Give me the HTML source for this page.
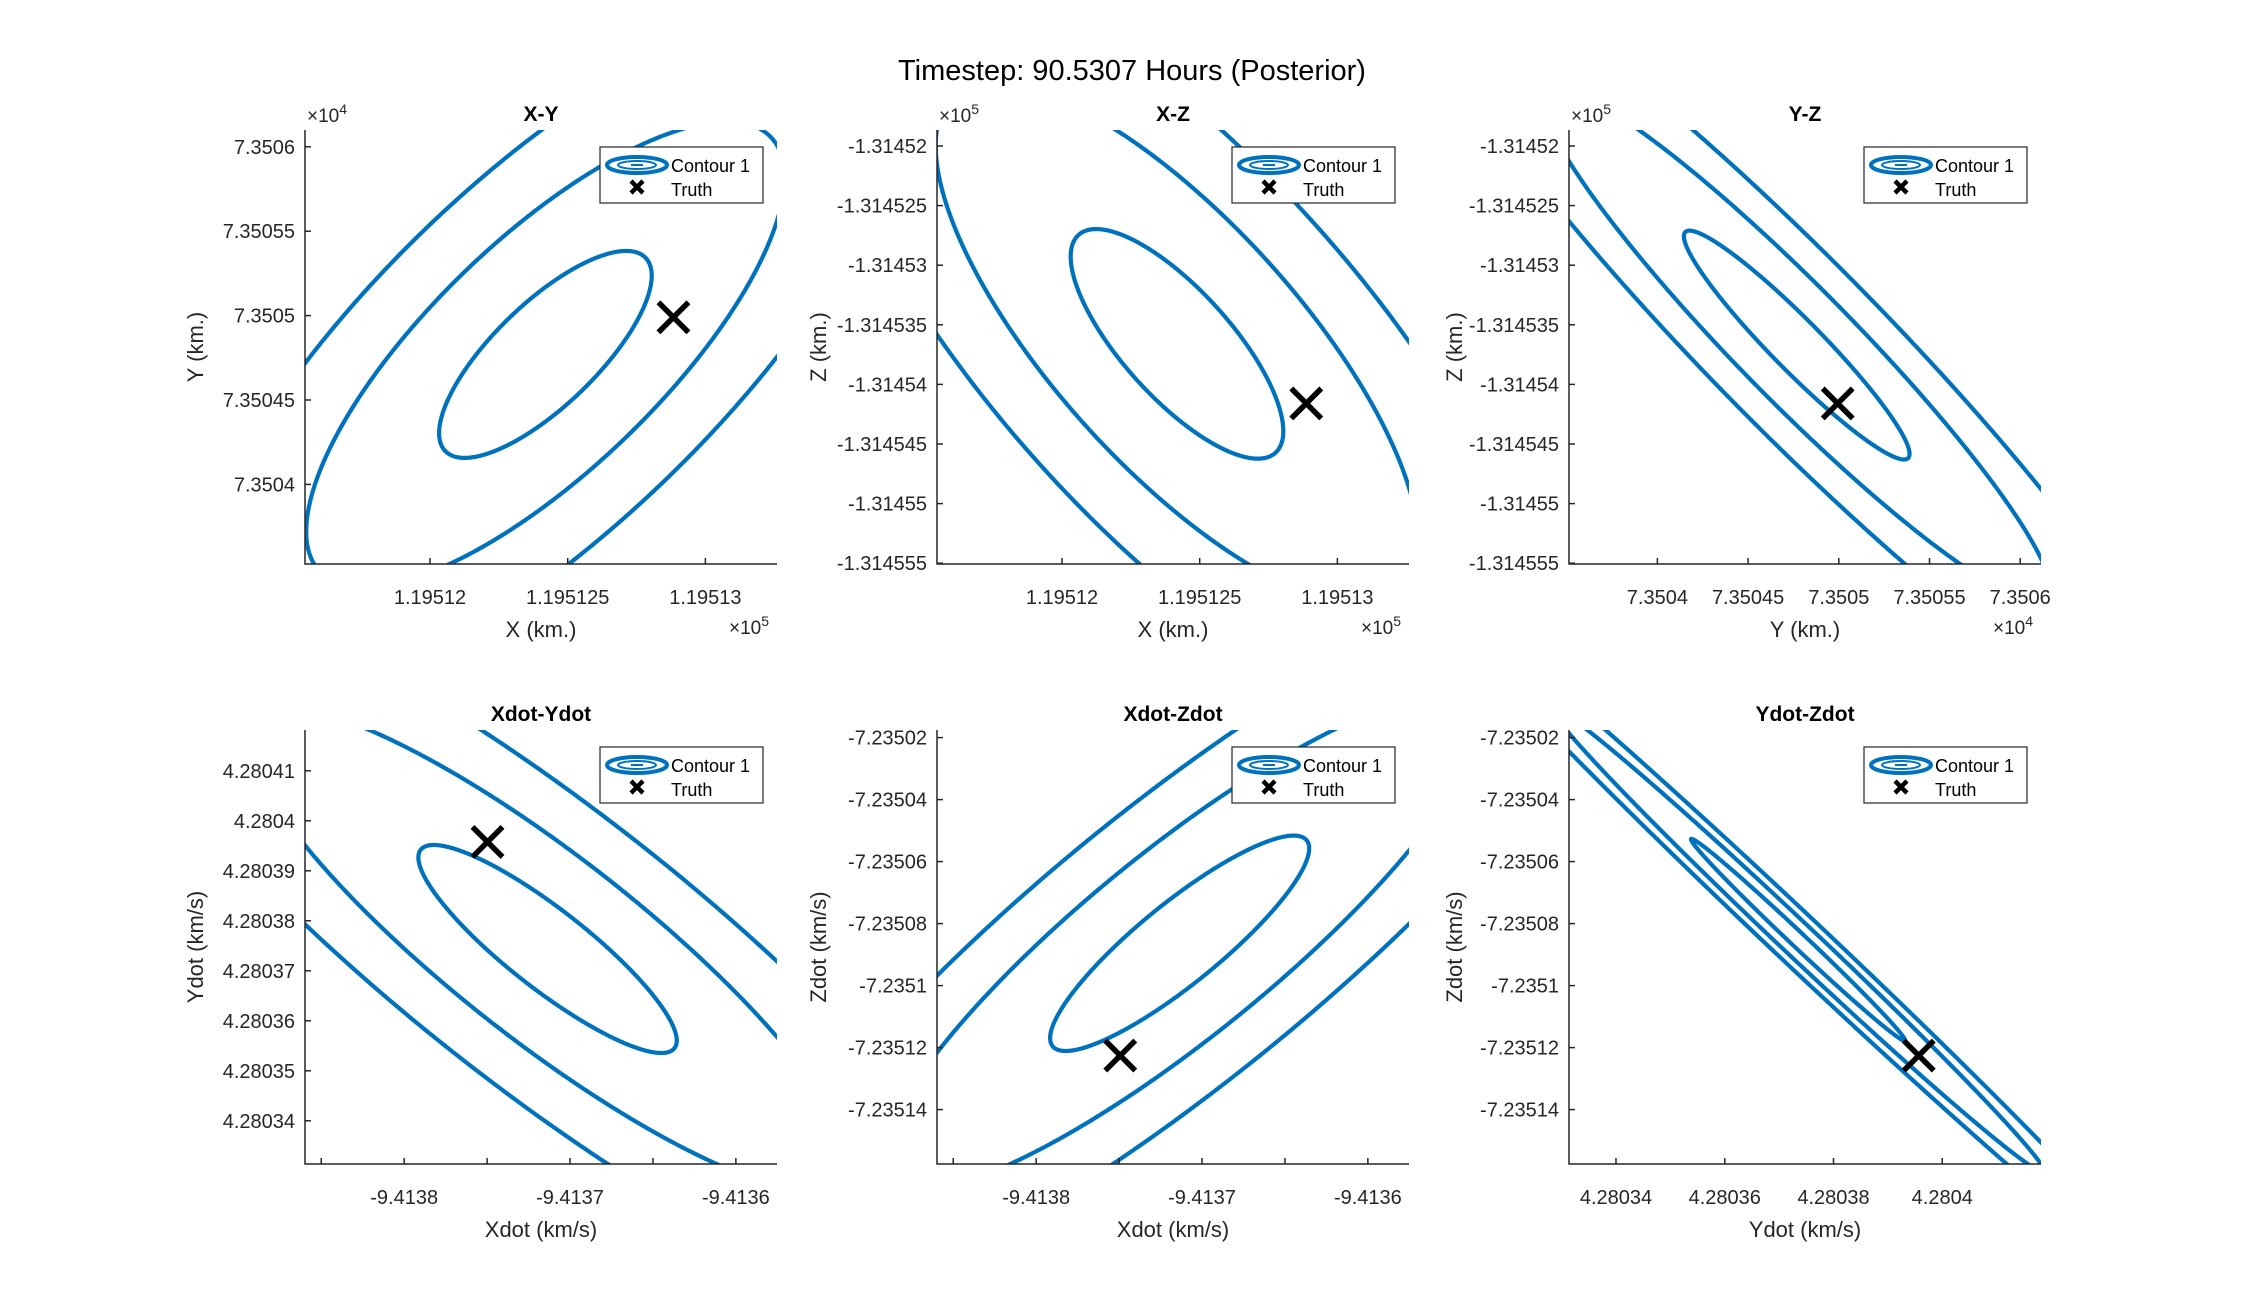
<!DOCTYPE html>
<html><head><meta charset="utf-8"><style>
html,body{margin:0;padding:0;background:#fff;}
svg{display:block;font-family:"Liberation Sans",Arial,sans-serif;}
</style></head><body>
<svg id="fig" width="2250" height="1302" viewBox="0 0 2250 1302" xmlns="http://www.w3.org/2000/svg">
<rect width="2250" height="1302" fill="#fff"/>
<text x="1132" y="80" font-size="29" text-anchor="middle" fill="#000">Timestep: 90.5307 Hours (Posterior)</text>
</svg>
<script>
// ---- data arrays ----
const panelTitles = ['X-Y','X-Z','Y-Z','Xdot-Ydot','Xdot-Zdot','Ydot-Zdot'];
const xLabels = ['X (km.)','X (km.)','Y (km.)','Xdot (km/s)','Xdot (km/s)','Ydot (km/s)'];
const yLabels = ['Y (km.)','Z (km.)','Z (km.)','Ydot (km/s)','Zdot (km/s)','Zdot (km/s)'];
const xDomains = [[1.19511546,1.1951326],[1.19511546,1.1951326],[7.35035127,7.35061147],[-9.4138598,-9.4135752],[-9.4138598,-9.4135752],[4.28033136,4.28041816]];
const yDomains = [[7.35035284,7.35060995],[-1.314555067,-1.314518658],[-1.314555067,-1.314518658],[4.28033136,4.28041816],[-7.23515755,-7.23501755],[-7.23515755,-7.23501755]];
const xTicks1 = [1.19512,1.195125,1.19513];
const xTickLabels1 = ['1.19512','1.195125','1.19513'];
const yTicks1 = [7.3504,7.35045,7.3505,7.35055,7.3506];
const yTickLabels1 = ['7.3504','7.35045','7.3505','7.35055','7.3506'];
const yTicksZ = [-1.314555,-1.31455,-1.314545,-1.31454,-1.314535,-1.31453,-1.314525,-1.31452];
const yTickLabelsZ = ['-1.314555','-1.31455','-1.314545','-1.31454','-1.314535','-1.31453','-1.314525','-1.31452'];
const xTicks3 = [7.3504,7.35045,7.3505,7.35055,7.3506];
const xTickLabels3 = ['7.3504','7.35045','7.3505','7.35055','7.3506'];
const xTicksXdot = [-9.41385,-9.4138,-9.41375,-9.4137,-9.41365,-9.4136];
const xTickLabelsXdot = ['','-9.4138','','-9.4137','','-9.4136'];
const yTicksYdot = [4.28034,4.28035,4.28036,4.28037,4.28038,4.28039,4.2804,4.28041];
const yTickLabelsYdot = ['4.28034','4.28035','4.28036','4.28037','4.28038','4.28039','4.2804','4.28041'];
const yTicksZdot = [-7.23514,-7.23512,-7.2351,-7.23508,-7.23506,-7.23504,-7.23502];
const yTickLabelsZdot = ['-7.23514','-7.23512','-7.2351','-7.23508','-7.23506','-7.23504','-7.23502'];
const xTicks6 = [4.28034,4.28036,4.28038,4.2804];
const xTickLabels6 = ['4.28034','4.28036','4.28038','4.2804'];
// contour (Gaussian ellipse) parameters per panel: centre, half-extents, correlation
const centerX = [1.19512419,1.195124175,7.3504768,-9.41371354,-9.41371349,4.28037349];
const centerY = [7.350477,-1.3145366,-1.3145367,4.28037436,-7.23508635,-7.23508526];
const sigmaX = [3.86e-6,3.86e-6,6.22e-5,7.79e-5,7.81e-5,1.969e-5];
const sigmaY = [6.13e-5,9.63e-6,9.6e-6,2.08e-5,3.474e-5,3.26e-5];
const rho = [0.76,-0.76,-0.95,-0.88,0.88,-0.995];
const contourLevels = [[1,2.25,3.38],[1,2.27,3.38],[1,2.25,3.35],[1,2.33,3.52],[1,2.3,3.4],[1,2.3,3.4]];
const truthX = [1.19512884,1.19512887,7.3504994,-9.41374976,-9.4137493,4.28039568];
const truthY = [7.350499,-1.3145416,-1.3145416,4.28039578,-7.23512258,-7.23512258];
const xExp = ['5','5','4',null,null,null];
const yExp = ['4','5','5',null,null,null];
// ---- layout ----
const tickSets = [
 [xTicks1,xTickLabels1,yTicks1,yTickLabels1],
 [xTicks1,xTickLabels1,yTicksZ,yTickLabelsZ],
 [xTicks3,xTickLabels3,yTicksZ,yTickLabelsZ],
 [xTicksXdot,xTickLabelsXdot,yTicksYdot,yTickLabelsYdot],
 [xTicksXdot,xTickLabelsXdot,yTicksZdot,yTickLabelsZdot],
 [xTicks6,xTickLabels6,yTicksZdot,yTickLabelsZdot]];
const lefts=[305,937,1569], tops=[130,730], W=472, H=434;
const yLabelX=[203,826,1462];
const NS='http://www.w3.org/2000/svg';
const svg=document.getElementById('fig');
function mk(tag,attrs,parent){const e=document.createElementNS(NS,tag);for(const k in attrs)e.setAttribute(k,attrs[k]);(parent||svg).appendChild(e);return e;}
const BLUE='#0072BD';
for(let p=0;p<6;p++){
  const L=lefts[p%3], T=tops[Math.floor(p/3)], R=L+W, B=T+H;
  const xd=xDomains[p], yd=yDomains[p];
  const sx=v=>L+(v-xd[0])/(xd[1]-xd[0])*W;
  const sy=v=>B-(v-yd[0])/(yd[1]-yd[0])*H;
  const g=mk('g',{});
  
  
  const cp=mk('clipPath',{id:'clip'+p},g);
  mk('rect',{x:L,y:T,width:W,height:H},cp);
  const cg=mk('g',{'clip-path':'url(#clip'+p+')'},g);
  contourLevels[p].forEach((k,i)=>{
    let d='';
    const s=Math.sqrt(1-rho[p]*rho[p]);
    for(let j=0;j<=720;j++){
      const t=j/720*2*Math.PI;
      const x=centerX[p]+k*sigmaX[p]*Math.cos(t);
      const y=centerY[p]+k*sigmaY[p]*(rho[p]*Math.cos(t)+s*Math.sin(t));
      d+=(j?'L':'M')+sx(x).toFixed(2)+' '+sy(y).toFixed(2);
    }
    const path=mk('path',{d:d+'Z',fill:'none',stroke:BLUE,'stroke-width':4.2},cg);
    
    
  });
  const ax=mk('path',{d:`M${L} ${T}V${B}H${R}`,fill:'none',stroke:'#262626','stroke-width':1.5},g);
  
  
  const [xt,xl,yt,yl]=tickSets[p];
  xt.forEach((v,i)=>{
    const x=sx(v);
    mk('line',{x1:x,x2:x,y1:B,y2:B-6,stroke:'#262626','stroke-width':1.5},g);
    if(xl[i]){const t=mk('text',{x:x,y:B+40,'font-size':20,'text-anchor':'middle',fill:'#262626'},g);t.textContent=xl[i];
      
      }
  });
  yt.forEach((v,i)=>{
    const y=sy(v);
    mk('line',{x1:L,x2:L+6,y1:y,y2:y,stroke:'#262626','stroke-width':1.5},g);
    const t=mk('text',{x:L-10,y:y+7,'font-size':20,'text-anchor':'end',fill:'#262626'},g);t.textContent=yl[i];
    
    
  });
  const tt=mk('text',{x:L+W/2,y:T-9,'font-size':21,'font-weight':'bold','text-anchor':'middle',fill:'#000'},g);tt.textContent=panelTitles[p];
  
  
  const xlab=mk('text',{x:L+W/2,y:B+73,'font-size':22,'text-anchor':'middle',fill:'#262626'},g);xlab.textContent=xLabels[p];
  
  
  const yx=yLabelX[p%3], yc=T+H/2;
  const ylab=mk('text',{x:yx,y:yc,'font-size':22,'text-anchor':'middle',fill:'#262626',transform:`rotate(-90 ${yx} ${yc})`},g);ylab.textContent=yLabels[p];
  
  
  if(yExp[p]){const e=mk('text',{x:L+2,y:T-8,'font-size':19,fill:'#262626'},g);e.innerHTML='×10<tspan dy="-8" font-size="14">'+yExp[p]+'</tspan>';
    
    }
  if(xExp[p]){const e=mk('text',{x:R-48,y:B+70,'font-size':19,fill:'#262626'},g);e.innerHTML='×10<tspan dy="-8" font-size="14">'+xExp[p]+'</tspan>';
    
    }
  const tx=sx(truthX[p]), ty=sy(truthY[p]);
  const m=mk('path',{d:`M${tx-15} ${ty-15}L${tx+15} ${ty+15}M${tx-15} ${ty+15}L${tx+15} ${ty-15}`,stroke:'#000','stroke-width':5.5,fill:'none'},g);
  
  
  const lg=mk('g',{},g);
  
  
  const lx=R-177, ly=T+17;
  mk('rect',{x:lx,y:ly,width:163,height:56,fill:'#fff',stroke:'#262626','stroke-width':1.2},lg);
  mk('ellipse',{cx:lx+37,cy:ly+18,rx:30,ry:8,fill:'none',stroke:BLUE,'stroke-width':4},lg);
  mk('ellipse',{cx:lx+37,cy:ly+18,rx:19,ry:4,fill:'none',stroke:BLUE,'stroke-width':2},lg);
  mk('line',{x1:lx+31,x2:lx+43,y1:ly+18,y2:ly+18,stroke:BLUE,'stroke-width':2},lg);
  const l1=mk('text',{x:lx+71,y:ly+25,'font-size':18,fill:'#000'},lg);l1.textContent='Contour 1';
  
  
  mk('path',{d:`M${lx+31} ${ly+34}L${lx+43} ${ly+46}M${lx+31} ${ly+46}L${lx+43} ${ly+34}`,stroke:'#000','stroke-width':4.5},lg);
  const l2=mk('text',{x:lx+71,y:ly+49,'font-size':18,fill:'#000'},lg);l2.textContent='Truth';
  
  
}
</script>
</body></html>
